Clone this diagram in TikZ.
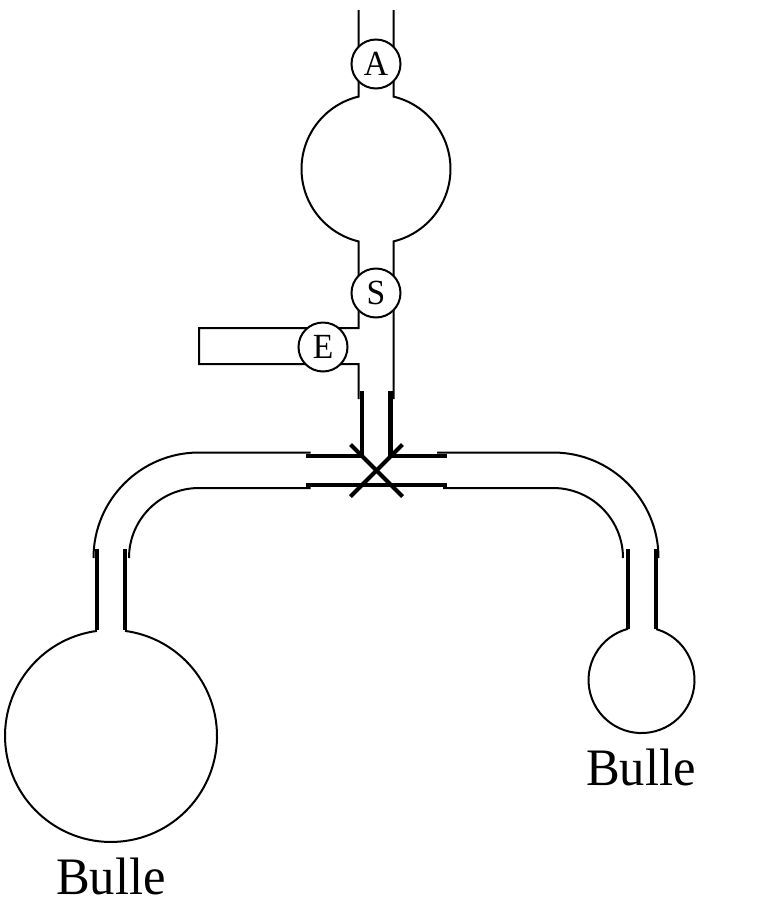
\documentclass[tikz,border=0pt]{standalone}
\usepackage{fontspec}
\setmainfont{Liberation Serif}
\tikzset{
  thintube/.style={draw=black,line width=1.5pt,line cap=butt,line join=miter},
  thicktube/.style={draw=black,line width=3.1pt,line cap=butt,line join=miter},
  valve/.style={circle,draw=black,line width=1.5pt,fill=white,minimum size=36.75pt,inner sep=0pt},
  valvetext/.style={inner sep=0pt,xscale=0.95,font=\fontsize{26.5}{26.5}\selectfont},
  bulle/.style={inner sep=0pt,anchor=base,xscale=0.96,font=\fontsize{39.5}{39.5}\selectfont}
}
\begin{document}
\begin{tikzpicture}[x=0.75pt,y=0.75pt]
\useasboundingbox (0,-904) rectangle (765,0);
% upper tube and reservoir
\draw[thintube] (358.5,-10) -- (358.5,-96.6) arc[start angle=103.6,end angle=256.4,radius=74.5] -- (358.5,-328) -- (199,-328) -- (199,-364) -- (358.5,-364) -- (358.5,-399);
\draw[thintube] (393.5,-10) -- (393.5,-96.6) arc[start angle=76.4,end angle=-76.4,radius=74.5] -- (393.5,-399);
% upper thick junction
\draw[thicktube] (362,-391) -- (362,-456) -- (306,-456);
\draw[thicktube] (390.5,-391) -- (390.5,-456) -- (447,-456);
\draw[thicktube] (306,-485) -- (447,-485);
\coordinate (xa) at (350.5,-444.5);
\coordinate (xb) at (402.5,-496.5);
\coordinate (xc) at (402.5,-444.5);
\coordinate (xd) at (350.5,-496.5);
\draw[thicktube] (xa) -- (xb);
\draw[thicktube] (xc) -- (xd);
% bent arms
\draw[thintube] (310.5,-452.5) -- (199,-452.5) arc[start angle=90,end angle=180,radius=105.5] ;
\draw[thintube] (310.5,-488) -- (199,-488) arc[start angle=90,end angle=180,radius=70];
\draw[thintube] (437,-452.5) -- (553,-452.5) arc[start angle=90,end angle=0,radius=105.5];
\draw[thintube] (443,-488) -- (553,-488) arc[start angle=90,end angle=0,radius=70];
% stems
\draw[thicktube] (96.7,-549) -- (96.7,-630);
\draw[thicktube] (125,-549) -- (125,-630);
\draw[thicktube] (628,-549) -- (628,-629);
\draw[thicktube] (656,-549) -- (656,-629);
% bubbles
\draw[thintube] (97,-630.9) arc[start angle=97.6,end angle=442.4,radius=106];
\draw[thintube] (628,-628.8) arc[start angle=104.8,end angle=434.1,radius=53];
% valves
\node[valve] (A) at (376,-64) {};
\node[valve] (S) at (376,-293) {};
\node[valve] (E) at (323,-347) {};
\node[valvetext] (lA) at (A) {A};
\node[valvetext] (lS) at (S) {S};
\node[valvetext] (lE) at (E) {E};
\node[bulle] (bl) at (111,-894) {Bulle};
\node[bulle] (br) at (641,-785) {Bulle};
\end{tikzpicture}
\end{document}
